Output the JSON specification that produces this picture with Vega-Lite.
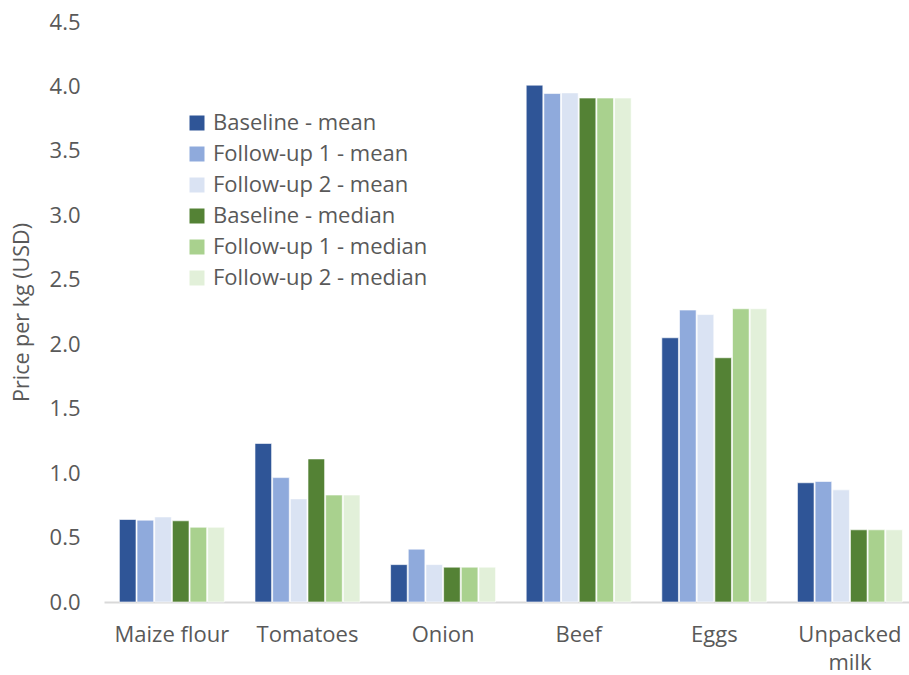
{
  "$schema": "https://vega.github.io/schema/vega-lite/v6.json",
  "autosize": {"type": "none"},
  "padding": {"left": 104, "top": 22, "right": 0, "bottom": 73},
  "width": 805,
  "height": 580,
  "background": "white",
  "config": {
    "view": {"stroke": null},
    "font": "Open Sans",
    "text": {"font": "Open Sans"}
  },
  "data": {
    "values": [
      {"food": "Maize flour", "series": "Baseline - mean", "price": 0.64},
      {"food": "Maize flour", "series": "Follow-up 1 - mean", "price": 0.635},
      {"food": "Maize flour", "series": "Follow-up 2 - mean", "price": 0.66},
      {"food": "Maize flour", "series": "Baseline - median", "price": 0.63},
      {"food": "Maize flour", "series": "Follow-up 1 - median", "price": 0.58},
      {"food": "Maize flour", "series": "Follow-up 2 - median", "price": 0.58},
      {"food": "Tomatoes", "series": "Baseline - mean", "price": 1.23},
      {"food": "Tomatoes", "series": "Follow-up 1 - mean", "price": 0.965},
      {"food": "Tomatoes", "series": "Follow-up 2 - mean", "price": 0.80},
      {"food": "Tomatoes", "series": "Baseline - median", "price": 1.11},
      {"food": "Tomatoes", "series": "Follow-up 1 - median", "price": 0.83},
      {"food": "Tomatoes", "series": "Follow-up 2 - median", "price": 0.83},
      {"food": "Onion", "series": "Baseline - mean", "price": 0.29},
      {"food": "Onion", "series": "Follow-up 1 - mean", "price": 0.41},
      {"food": "Onion", "series": "Follow-up 2 - mean", "price": 0.29},
      {"food": "Onion", "series": "Baseline - median", "price": 0.27},
      {"food": "Onion", "series": "Follow-up 1 - median", "price": 0.27},
      {"food": "Onion", "series": "Follow-up 2 - median", "price": 0.27},
      {"food": "Beef", "series": "Baseline - mean", "price": 4.01},
      {"food": "Beef", "series": "Follow-up 1 - mean", "price": 3.945},
      {"food": "Beef", "series": "Follow-up 2 - mean", "price": 3.95},
      {"food": "Beef", "series": "Baseline - median", "price": 3.91},
      {"food": "Beef", "series": "Follow-up 1 - median", "price": 3.91},
      {"food": "Beef", "series": "Follow-up 2 - median", "price": 3.91},
      {"food": "Eggs", "series": "Baseline - mean", "price": 2.05},
      {"food": "Eggs", "series": "Follow-up 1 - mean", "price": 2.265},
      {"food": "Eggs", "series": "Follow-up 2 - mean", "price": 2.23},
      {"food": "Eggs", "series": "Baseline - median", "price": 1.895},
      {"food": "Eggs", "series": "Follow-up 1 - median", "price": 2.275},
      {"food": "Eggs", "series": "Follow-up 2 - median", "price": 2.275},
      {"food": "Unpacked milk", "series": "Baseline - mean", "price": 0.925},
      {"food": "Unpacked milk", "series": "Follow-up 1 - mean", "price": 0.935},
      {"food": "Unpacked milk", "series": "Follow-up 2 - mean", "price": 0.87},
      {"food": "Unpacked milk", "series": "Baseline - median", "price": 0.56},
      {"food": "Unpacked milk", "series": "Follow-up 1 - median", "price": 0.56},
      {"food": "Unpacked milk", "series": "Follow-up 2 - median", "price": 0.56}
    ]
  },
  "mark": {"type": "bar", "stroke": "white", "strokeWidth": 1, "strokeOpacity": 0.6},
  "encoding": {
    "x": {
      "field": "food",
      "type": "nominal",
      "sort": ["Maize flour", "Tomatoes", "Onion", "Beef", "Eggs", "Unpacked milk"],
      "scale": {"paddingInner": 0.226, "paddingOuter": 0.081, "align": 0.7},
      "axis": {
        "title": null,
        "labelAngle": 0,
        "labelFontSize": 22,
        "labelColor": "#595959",
        "labelPadding": 32,
        "labelLineHeight": 28,
        "labelBaseline": "middle",
        "labelLimit": 0,
        "ticks": false,
        "domainColor": "#D9D9D9",
        "domainWidth": 2,
        "labelExpr": "datum.label == 'Unpacked milk' ? ['Unpacked', 'milk'] : datum.label"
      }
    },
    "xOffset": {
      "field": "series",
      "type": "nominal",
      "sort": ["Baseline - mean", "Follow-up 1 - mean", "Follow-up 2 - mean", "Baseline - median", "Follow-up 1 - median", "Follow-up 2 - median"],
      "scale": {"paddingInner": 0.06, "paddingOuter": 0}
    },
    "y": {
      "field": "price",
      "type": "quantitative",
      "scale": {"domain": [0, 4.5], "nice": false},
      "axis": {
        "title": "Price per kg (USD)",
        "titleFontSize": 21.5,
        "titleFontWeight": "normal",
        "titleColor": "#595959",
        "titlePadding": 16,
        "values": [0, 0.5, 1, 1.5, 2, 2.5, 3, 3.5, 4, 4.5],
        "format": ".1f",
        "labelFontSize": 22,
        "labelColor": "#595959",
        "labelPadding": 24,
        "grid": false,
        "ticks": false,
        "domain": false
      }
    },
    "color": {
      "field": "series",
      "type": "nominal",
      "sort": ["Baseline - mean", "Follow-up 1 - mean", "Follow-up 2 - mean", "Baseline - median", "Follow-up 1 - median", "Follow-up 2 - median"],
      "scale": {
        "domain": ["Baseline - mean", "Follow-up 1 - mean", "Follow-up 2 - mean", "Baseline - median", "Follow-up 1 - median", "Follow-up 2 - median"],
        "range": ["#2F5597", "#8FAADC", "#DAE3F3", "#548235", "#A9D18E", "#E2F0D9"]
      },
      "legend": {
        "title": null,
        "orient": "none",
        "legendX": 82,
        "legendY": 90,
        "symbolType": "square",
        "symbolSize": 225,
        "symbolStrokeWidth": 0,
        "labelFontSize": 22,
        "labelColor": "#595959",
        "labelOffset": 5,
        "labelLimit": 0,
        "rowPadding": 9
      }
    }
  }
}
